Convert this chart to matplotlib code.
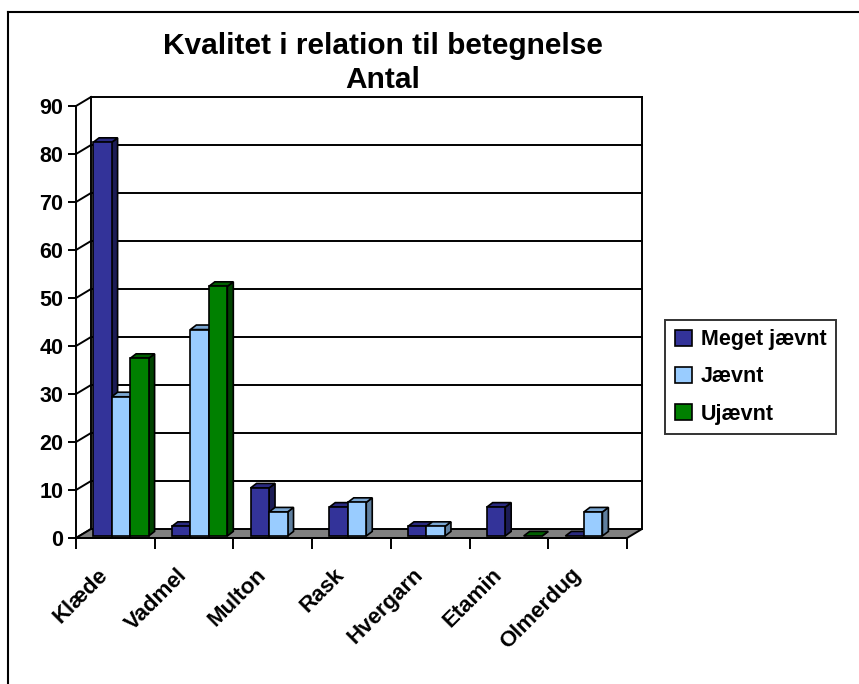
import matplotlib
matplotlib.use("Agg")
import matplotlib.pyplot as plt
from matplotlib.patches import Polygon
import numpy as np

plt.rcParams['font.family'] = ['Liberation Sans', 'DejaVu Sans']
plt.rcParams['font.weight'] = 'bold'

# data
categories = ["Klæde", "Vadmel", "Multon", "Rask", "Hvergarn", "Etamin", "Olmerdug"]
meget_jaevnt = [82, 2, 10, 6, 2, 6, 0]
jaevnt = [29, 43, 5, 7, 2, np.nan, 5]
ujaevnt = [37, 52, np.nan, np.nan, np.nan, 0, np.nan]
series_names = ["Meget jævnt", "Jævnt", "Ujævnt"]

front_cols = ["#333399", "#99ccff", "#008000"]
side_cols = ["#1c1c55", "#5f7f9f", "#004400"]
top_cols = ["#2a2a80", "#7aa6d2", "#006000"]

W, H = 859, 684
fig = plt.figure(figsize=(W / 100, H / 100), dpi=100)
ax = fig.add_axes([76 / W, (H - 538) / H, (627 - 76) / W, (538 - 106) / H])
ax.set_xlim(0, 7)
ax.set_ylim(0, 90)

# depth of the 3d box in data units
DX, DY = 15 / 78.71, 9 / 4.8
lw = 1.4

# floor
ax.add_patch(Polygon([(0, 0), (7, 0), (7 + DX, DY), (DX, DY)], closed=True,
                     facecolor="#808080", edgecolor="black", lw=lw, clip_on=False, zorder=1))
# back wall grid + left wall
for v in range(10, 100, 10):
    ax.plot([DX, 7 + DX], [v + DY, v + DY], color="black", lw=lw, clip_on=False, zorder=0.5)
for v in range(0, 100, 10):
    ax.plot([0, DX], [v, v + DY], color="black", lw=lw, clip_on=False, zorder=0.5)
ax.plot([DX, DX], [DY, 90 + DY], color="black", lw=lw, clip_on=False, zorder=0.5)
ax.plot([7 + DX, 7 + DX], [DY, 90 + DY], color="black", lw=lw, clip_on=False, zorder=0.5)

# bars
w = 0.235
fx, fy = 0.07, 0.42   # bar front plane offset
bx, by = 0.076, 0.95  # bar depth
all_series = [meget_jaevnt, jaevnt, ujaevnt]
z = 2
for i in range(len(categories)):
    for j, vals in enumerate(all_series):
        v = vals[i]
        if np.isnan(v):
            continue
        xl = i + 0.5 + (j - 1.5) * w + fx
        xr = xl + w
        b, t = fy, fy + v
        ax.add_patch(Polygon([(xr, b), (xr + bx, b + by), (xr + bx, t + by), (xr, t)],
                             facecolor=side_cols[j], edgecolor="black", lw=1.2, zorder=z, clip_on=False))
        ax.add_patch(Polygon([(xl, t), (xr, t), (xr + bx, t + by), (xl + bx, t + by)],
                             facecolor=top_cols[j], edgecolor="black", lw=1.2, zorder=z, clip_on=False))
        if v > 0:
            ax.bar(xl, v, bottom=b, width=w, align="edge", color=front_cols[j],
                   edgecolor="black", lw=1.2, zorder=z + 0.5, clip_on=False)
        z += 1

# axes
for s in ["top", "right"]:
    ax.spines[s].set_visible(False)
for s in ["left", "bottom"]:
    ax.spines[s].set_linewidth(lw)
    ax.spines[s].set_zorder(1.5)
ax.set_yticks(range(0, 100, 10))
ax.set_yticklabels([str(v) for v in range(0, 100, 10)], fontsize=15.5, fontweight="bold")
ax.set_xticks(range(8))
ax.set_xticklabels([])
ax.tick_params(axis="y", length=6, width=lw, pad=3)
ax.tick_params(axis="x", length=8, width=lw)

for i, c in enumerate(categories):
    ax.text(i + 0.5 - 0.13, -34 / 432, c, transform=ax.get_xaxis_transform(),
            rotation=45, rotation_mode="anchor", ha="right", va="center",
            fontsize=16, fontweight="bold")

# title
fig.text(383 / W, 1 - 63 / H, "Kvalitet i relation til betegnelse\nAntal", ha="center", va="center",
         fontsize=21.5, fontweight="bold", linespacing=1.3)

# legend
handles = [plt.Rectangle((0, 0), 1, 1, facecolor=c, edgecolor="black", lw=1.2) for c in front_cols]
leg = fig.legend(handles, series_names, loc="center left", bbox_to_anchor=(665 / W, 1 - 377 / H),
                 frameon=True, fancybox=False, edgecolor="black", handlelength=0.8, handleheight=0.8,
                 handletextpad=0.4, labelspacing=0.75, borderpad=0.45, borderaxespad=0,
                 prop={"size": 15.5, "weight": "bold"})
leg.get_frame().set_linewidth(lw)

# outer frame
fig.add_artist(plt.Line2D([8 / W, 8 / W], [0, 1 - 12 / H], color="black", lw=1.5))
fig.add_artist(plt.Line2D([8 / W, 1], [1 - 12 / H, 1 - 12 / H], color="black", lw=1.5))

fig.savefig("out.png", dpi=100)
